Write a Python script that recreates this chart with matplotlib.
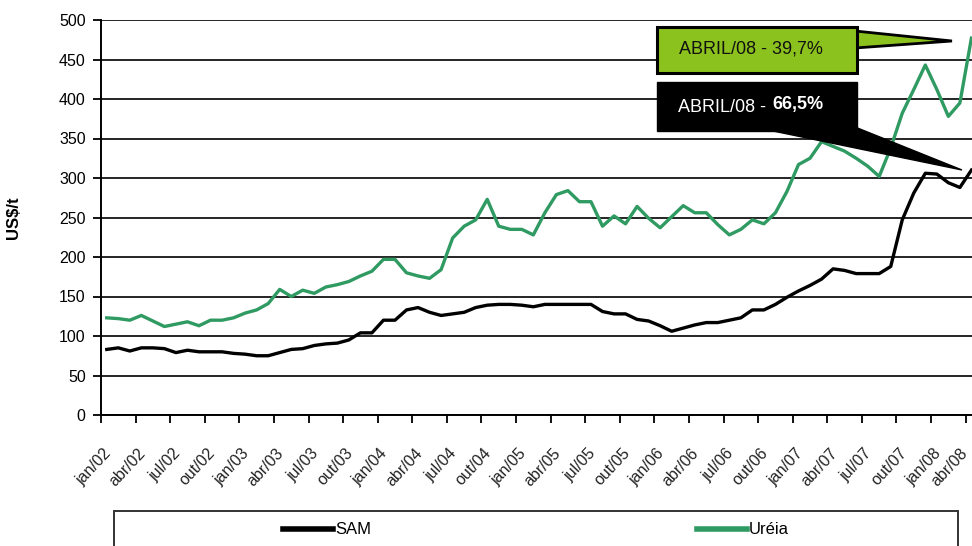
import matplotlib
matplotlib.use("Agg")
import matplotlib.pyplot as plt
from matplotlib.patches import Polygon, Rectangle
from matplotlib.lines import Line2D
from matplotlib.transforms import ScaledTranslation

plt.rcParams['font.family'] = ['Liberation Sans', 'DejaVu Sans']

# monthly prices, jan/02 .. abr/08 (US$/t)
sam = [83, 85, 81, 85, 85, 84, 79, 82, 80, 80, 80, 78, 77, 75, 75, 79, 83, 84, 88, 90,
       91, 95, 104, 104, 120, 120, 133, 136, 130, 126, 128, 130, 136, 139, 140, 140, 139, 137, 140, 140,
       140, 140, 140, 131, 128, 128, 121, 119, 113, 106, 110, 114, 117, 117, 120, 123, 133, 133, 140, 149,
       157, 164, 172, 185, 183, 179, 179, 179, 188, 247, 281, 306, 305, 294, 288, 310]
ureia = [123, 122, 120, 126, 119, 112, 115, 118, 113, 120, 120, 123, 129, 133, 141, 159, 150, 158, 154, 162,
         165, 169, 176, 182, 197, 197, 180, 176, 173, 184, 224, 239, 247, 273, 239, 235, 235, 228, 256, 279,
         284, 270, 270, 239, 252, 242, 264, 249, 237, 251, 265, 256, 256, 241, 228, 235, 247, 242, 256, 283,
         317, 325, 346, 340, 334, 325, 315, 302, 338, 382, 412, 443, 412, 378, 395, 477]
tick_labels = ['jan/02', 'abr/02', 'jul/02', 'out/02', 'jan/03', 'abr/03', 'jul/03', 'out/03',
               'jan/04', 'abr/04', 'jul/04', 'out/04', 'jan/05', 'abr/05', 'jul/05', 'out/05',
               'jan/06', 'abr/06', 'jul/06', 'out/06', 'jan/07', 'abr/07', 'jul/07', 'out/07',
               'jan/08', 'abr/08']
yticks = [0, 50, 100, 150, 200, 250, 300, 350, 400, 450, 500]
callout_ureia = 'ABRIL/08 - 39,7%'
callout_sam = ('ABRIL/08 -', '66,5%')

W, H = 972, 546
GREEN = '#2f9a62'
LIME = '#8cc21e'

def px(x, y):
    return (x / W, 1 - y / H)

fig = plt.figure(figsize=(9.72, 5.46), dpi=100)
ax = fig.add_axes([101 / W, 1 - 415 / H, (972 - 101) / W, (415 - 20) / H])

months = list(range(len(sam)))
ax.plot(months, sam, color='black', lw=2.4, label='SAM', solid_joinstyle='round')
ax.plot(months, ureia, color=GREEN, lw=2.4, label='Uréia', solid_joinstyle='round')

ax.set_xlim(-0.5, len(sam) - 0.95)
ax.set_ylim(0, 500)
ax.set_yticks(yticks)
ax.yaxis.grid(True, color='black', lw=1.2)
ax.set_axisbelow(True)
for s in ['top', 'right']:
    ax.spines[s].set_visible(False)
ax.spines['left'].set_linewidth(1.4)
ax.spines['bottom'].set_linewidth(1.4)

ax.set_xticks([-0.5 + 3 * i for i in range(len(tick_labels))])
ax.set_xticklabels(tick_labels, rotation=47, ha='right', rotation_mode='anchor', color='#222222')
ax.tick_params(axis='both', direction='out', length=6, width=1.3, labelsize=11.5, pad=5)
ax.tick_params(axis='x', labelsize=11.5, pad=16)
labels = ax.get_xticklabels()
for i, lab in enumerate(labels):
    dx = 2 if i < len(labels) - 1 else -6
    lab.set_transform(lab.get_transform() + ScaledTranslation(dx / 100, 0, fig.dpi_scale_trans))
ax.set_ylabel('US$/t', fontsize=12, fontweight='bold', labelpad=0)
ax.yaxis.set_label_coords(-80 / 871, 0.50)

# callouts
t = fig.transFigure
fig.patches.append(Polygon([px(855, 31), px(952, 41), px(855, 48)], closed=True,
                           facecolor=LIME, edgecolor='black', lw=2, transform=t, figure=fig))
fig.patches.append(Rectangle(px(657, 73), 200 / W, 46 / H, facecolor=LIME, edgecolor='black',
                             lw=2.2, transform=t, figure=fig))
fig.text(*px(751, 49), callout_ureia, ha='center', va='center', fontsize=13, color='#111111')

fig.patches.append(Polygon([px(773, 131), px(855, 127), px(962, 170)], closed=True,
                           facecolor='black', edgecolor='black', lw=1, transform=t, figure=fig))
fig.patches.append(Rectangle(px(657, 131), 200 / W, 49 / H, facecolor='black', edgecolor='black',
                             lw=1, transform=t, figure=fig))
fig.text(*px(766, 108), callout_sam[0], ha='right', va='center', fontsize=13, color='white')
fig.text(*px(772, 104), callout_sam[1], ha='left', va='center', fontsize=13, color='white',
         fontweight='bold')

# legend box
fig.patches.append(Rectangle(px(114, 560), (958 - 114) / W, (560 - 511) / H, facecolor='none',
                             edgecolor='#333333', lw=1.4, transform=t, figure=fig))
fig.legend(handles=[Line2D([], [], color='black', lw=4), Line2D([], [], color=GREEN, lw=4)],
           labels=['SAM', 'Uréia'], loc='center', bbox_to_anchor=px(536, 530), ncol=2,
           frameon=False, fontsize=12, handlelength=3.0, handletextpad=0.15, columnspacing=19.5)

fig.savefig('out.png', dpi=100)
